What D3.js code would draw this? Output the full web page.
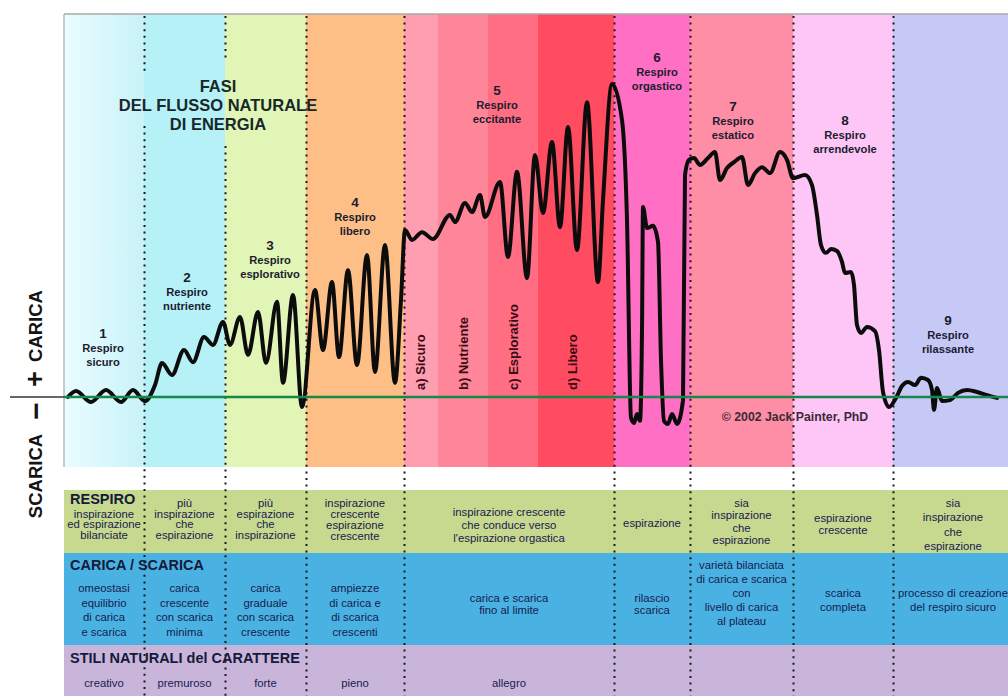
<!DOCTYPE html>
<html><head><meta charset="utf-8">
<script src="https://cdn.jsdelivr.net/npm/d3@7"></script>
<style>
html,body{margin:0;padding:0;background:#fff;}
svg{display:block;font-family:"Liberation Sans",Arial,sans-serif;}
</style></head><body>
<svg id="chart" width="1008" height="696"></svg>
<script>
// ---------- DATA ----------
const phaseNumbers = ["1","2","3","4","5","6","7","8","9"];
const phaseNames = [["Respiro","sicuro"],["Respiro","nutriente"],["Respiro","esplorativo"],["Respiro","libero"],["Respiro","eccitante"],["Respiro","orgastico"],["Respiro","estatico"],["Respiro","arrendevole"],["Respiro","rilassante"]];
const phaseBounds = [0,80,161,242,340,550,626,729,829,944];
const subPhaseBounds = [340,374,424,474,550];
const subPhaseLabels = ["a) Sicuro","b) Nutriente","c) Esplorativo","d) Libero"];
const titleLines = ["FASI","DEL FLUSSO NATURALE","DI ENERGIA"];
const waveTime = [4,12,27,42,57,69,81,
 91,98,108,120,129,140,149,159,
 166,176,184,194,202,213,219,229,238,
 251,259,268,275,284,293,303,311,321,331,337,341,
 348,358,369,386,391,401,408,416,421,436,444,453,463,471,479,488,496,504,513,523,534,539,548,558,563,
 567,570,573,576,578,579,583,589,594,597,600,604,608,613,619,621,625,
 630,636,644,651,656,663,670,678,684,691,698,706,716,723,729,
 741,748,753,757,762,767,773,778,781,787,790,793,797,803,811,815,819,825,
 832,838,844,851,857,864,868,870,873,878,886,894,903,913,923,933];
const waveCharge = [0,1.9,-1.6,2.2,-1.6,2.2,-1.3,
 3.8,10.8,7.0,15.0,11.1,19.1,16.6,23.9,
 16.6,25.5,13.4,27.1,10.8,30.3,4.5,32.5,-3.2,
 34.1,15.0,36.6,12.7,40.4,10.2,45.2,8.0,48.4,4.5,30.9,53.2,
 50.0,52.5,50.3,58.0,55.7,61.8,58.9,64.3,57.3,68.5,44.6,71.7,37.9,77.1,58.6,81.2,54.1,86.0,46.8,93.9,36.6,62.7,99.7,88.2,56.4,
 -6.7,-8.3,-5.4,-7.6,21.3,60.5,53.8,54.5,49.4,11.8,-7.6,-8.6,-5.4,-8.6,-1.0,70.7,75.5,
 76.1,73.9,76.1,78.0,69.1,72.9,74.8,76.4,67.5,71.3,73.2,71.3,78.0,75.5,69.7,
 70.7,67.5,58.0,48.4,45.9,47.1,46.5,43.0,39.5,39.8,35.7,22.9,20.4,22.3,21.0,15.0,1.6,-3.2,
 -0.3,3.5,4.8,3.8,6.1,5.4,2.2,-4.1,2.9,-1.3,-1.0,1.3,2.2,1.6,0.6,-0.3];
const axisPlus = "CARICA", axisMinus = "SCARICA";
const copyright = "© 2002 Jack Painter, PhD";
const rowTitles = ["RESPIRO","CARICA / SCARICA","STILI NATURALI del CARATTERE"];
const respiroCells = [
 ["inspirazione","ed espirazione","bilanciate"],
 ["più","inspirazione","che","espirazione"],
 ["più","espirazione","che","inspirazione"],
 ["inspirazione","crescente","espirazione","crescente"],
 ["inspirazione crescente","che conduce verso","l'espirazione orgastica"],
 ["espirazione"],
 ["sia","inspirazione","che","espirazione"],
 ["espirazione","crescente"],
 ["sia","inspirazione","che","espirazione"]];
const caricaCells = [
 ["omeostasi","equilibrio","di carica","e scarica"],
 ["carica","crescente","con scarica","minima"],
 ["carica","graduale","con scarica","crescente"],
 ["ampiezze","di carica e","di scarica","crescenti"],
 ["carica e scarica","fino al limite"],
 ["rilascio","scarica"],
 ["varietà bilanciata","di carica e scarica","con","livello di carica","al plateau"],
 ["scarica","completa"],
 ["processo di creazione","del respiro sicuro"]];
const stiliCells = [["creativo"],["premuroso"],["forte"],["pieno"],["allegro"],[],[],[],[]];

// ---------- STYLE / LAYOUT ----------
const phaseColors = ["url(#g1)","#b5f1f7","#e1f5b6","#fdbf86",null,"#ff6fc4","#fe8da6","#fdc6f6","#c6c9f6"];
const subColors = ["#ff9db1","#ff8698","#ff6e82","#ff4c61"];
const labelX = [103,187,270,355,497,657,733,845,948];
const labelY = [333,277,245,202,90,57,106,120,320];
const subLabelX = [420,463,513,572];
const bandTop = 14, bandBottom = 467;
const rows = [{y0:490,y1:553,fill:"#c7d98e",titleY:499},{y0:553,y1:645,fill:"#49b2e2",titleY:565},{y0:645,y1:696,fill:"#cab5da",titleY:658}];
const r1First=[514,503,503,503,512,523,503,518,503], r1Step=[10.3,10.5,10.5,11,13,0,12.3,12,14.3];
const r2First=[588,588,588,588,598,598,565,593,593], r2Step=[14.5,14.5,14.5,14.5,12,12,14,14,14];

const svg = d3.select("#chart");
const x = d3.scaleLinear().domain([0,944]).range([64,1008]);
const y = d3.scaleLinear().domain([0,100]).range([397,83]);

const defs = svg.append("defs");
const g1 = defs.append("linearGradient").attr("id","g1").attr("x1","0").attr("x2","1").attr("y1","0").attr("y2","0");
g1.append("stop").attr("offset","0").attr("stop-color","#eafcff");
g1.append("stop").attr("offset","1").attr("stop-color","#c8f3f8");

// bands
const phases = d3.range(9).map(i=>({i, t0:phaseBounds[i], t1:phaseBounds[i+1]}));
svg.append("g").selectAll("rect").data(phases.filter(p=>phaseColors[p.i])).join("rect")
  .attr("x",d=>x(d.t0)).attr("width",d=>x(d.t1)-x(d.t0))
  .attr("y",bandTop).attr("height",bandBottom-bandTop)
  .attr("fill",d=>phaseColors[d.i]);
const subs = d3.range(4).map(i=>({i,t0:subPhaseBounds[i],t1:subPhaseBounds[i+1]}));
svg.append("g").selectAll("rect").data(subs).join("rect")
  .attr("x",d=>x(d.t0)).attr("width",d=>x(d.t1)-x(d.t0))
  .attr("y",bandTop).attr("height",bandBottom-bandTop)
  .attr("fill",d=>subColors[d.i]);

// borders
svg.append("line").attr("x1",x(0)).attr("x2",x(944)).attr("y1",bandTop).attr("y2",bandTop).attr("stroke","#a9a9a9").attr("stroke-width",1.5);
svg.append("line").attr("x1",x(0)).attr("x2",x(0)).attr("y1",bandTop).attr("y2",bandBottom).attr("stroke","#a9a9a9").attr("stroke-width",1.2);

// table rows
rows.forEach(r=>{
  svg.append("rect").attr("x",x(0)).attr("y",r.y0).attr("width",x(944)-x(0)).attr("height",r.y1-r.y0).attr("fill",r.fill);
});

// dotted boundaries
const gaps = {1:[72,126],2:[62,146]};
const dots = svg.append("g").attr("stroke","#1a1a1a").attr("stroke-width",2).attr("stroke-dasharray","2,4.6");
phaseBounds.slice(1,9).forEach((t,k)=>{
  const i=k+1, xx=Math.round(x(t))+0.5;
  const segs = gaps[i] ? [[bandTop+2,gaps[i][0]],[gaps[i][1],696]] : [[bandTop+2,696]];
  segs.forEach(s=>dots.append("line").attr("x1",xx).attr("x2",xx).attr("y1",s[0]).attr("y2",s[1]));
});

// title
svg.append("g").selectAll("text").data(titleLines).join("text")
  .attr("x",218).attr("y",(d,i)=>86+i*19).attr("text-anchor","middle").attr("dominant-baseline","central")
  .attr("font-weight","bold").attr("font-size",16.5).attr("fill","#18282a").text(d=>d);

// phase labels
const lab = svg.append("g").attr("fill","#1c1c30").attr("font-weight","bold").attr("text-anchor","middle");
phases.forEach(p=>{
  lab.append("text").attr("x",labelX[p.i]).attr("y",labelY[p.i]).attr("dominant-baseline","central").attr("font-size",13.5).text(phaseNumbers[p.i]);
  phaseNames[p.i].forEach((s,j)=>lab.append("text").attr("x",labelX[p.i]).attr("y",labelY[p.i]+15+j*14).attr("dominant-baseline","central").attr("font-size",11.2).text(s));
});

// sub-phase labels
svg.append("g").selectAll("text").data(subPhaseLabels).join("text")
  .attr("transform",(d,i)=>`translate(${subLabelX[i]},390) rotate(-90)`)
  .attr("dominant-baseline","central").attr("font-weight","bold").attr("font-size",13)
  .attr("fill","#3a0c16").text(d=>d);

// wave
const pts = waveTime.map((t,i)=>[t,waveCharge[i]]);
const line = d3.line().x(d=>x(d[0])).y(d=>y(d[1])).curve(d3.curveMonotoneX);
svg.append("path").datum(pts).attr("d",line).attr("fill","none").attr("stroke","#0c0c0c")
  .attr("stroke-width",4).attr("stroke-linejoin","round").attr("stroke-linecap","round");

// baseline
svg.append("line").attr("x1",10).attr("x2",x(0)).attr("y1",y(0)).attr("y2",y(0)).attr("stroke","#333").attr("stroke-width",1.6);
svg.append("line").attr("x1",x(0)).attr("x2",x(944)).attr("y1",y(0)).attr("y2",y(0)).attr("stroke","#17884a").attr("stroke-width",2.6);

// copyright
svg.append("text").attr("x",795).attr("y",417).attr("text-anchor","middle").attr("dominant-baseline","central")
  .attr("font-weight","bold").attr("font-size",12.3).attr("fill","#3a2a36").text(copyright);

// axis labels
const ax = svg.append("g").attr("font-weight","bold").attr("fill","#141414").attr("text-anchor","middle").attr("dominant-baseline","central");
ax.append("text").attr("transform","translate(35,326) rotate(-90)").attr("font-size",18.5).text(axisPlus);
ax.append("text").attr("transform","translate(35,379) rotate(-90)").attr("font-size",27).text("+");
ax.append("text").attr("transform","translate(35,411) rotate(-90)").attr("font-size",30).text("−");
ax.append("text").attr("transform","translate(35,476) rotate(-90)").attr("font-size",18.5).text(axisMinus);

// table titles
svg.append("g").selectAll("text").data(rowTitles).join("text")
  .attr("x",70).attr("y",(d,i)=>rows[i].titleY).attr("dominant-baseline","central")
  .attr("font-weight","bold").attr("font-size",14.5).attr("fill","#161a3a").text(d=>d);

// table cells
const cellG = svg.append("g").attr("font-size",11.3).attr("fill","#172050").attr("text-anchor","middle").attr("dominant-baseline","central");
function cellCenter(i){ return i===8 ? 953 : (x(phaseBounds[i])+x(phaseBounds[i+1]))/2; }
respiroCells.forEach((c,i)=>c.forEach((s,j)=>cellG.append("text").attr("x",cellCenter(i)).attr("y",r1First[i]+j*r1Step[i]).text(s)));
caricaCells.forEach((c,i)=>c.forEach((s,j)=>cellG.append("text").attr("x",cellCenter(i)).attr("y",r2First[i]+j*r2Step[i]).text(s)));
stiliCells.forEach((c,i)=>c.forEach((s,j)=>cellG.append("text").attr("x",cellCenter(i)).attr("y",683).text(s)));
</script>
</body></html>
